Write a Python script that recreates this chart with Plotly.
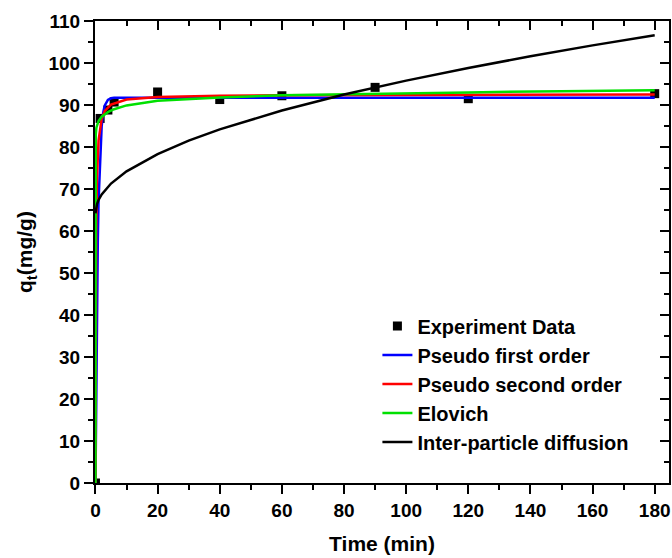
import plotly.graph_objects as go

# Adsorption kinetics: measured uptake and fitted model curves
time_exp = [0, 1.5, 4, 6, 20, 40, 60, 90, 120, 180]
qt_exp = [0, 86.8, 88.8, 90.7, 93.1, 91.3, 92.2, 94.2, 91.5, 92.7]

time_pfo = [0, 0.25, 0.5, 0.75, 1, 1.5, 2, 2.5, 3, 4, 5, 6, 10, 180]
qt_pfo = [0, 25.4, 43.5, 57.3, 67.3, 78.6, 85.0, 88.2, 89.9, 91.2, 91.6, 91.7, 91.7, 91.7]

time_pso = [0, 0.1, 0.25, 0.5, 1, 2, 3, 5, 10, 20, 40, 60, 100, 180]
qt_pso = [0, 39.6, 60.3, 73.0, 81.6, 86.7, 88.6, 90.1, 91.3, 91.9, 92.2, 92.3, 92.4, 92.5]

time_elo = [0, 0.02, 0.1, 0.3, 0.6, 1, 2, 3, 4, 6, 10, 20, 40, 60, 90, 120, 150, 180]
qt_elo = [0, 80.0, 83.0, 84.6, 85.5, 86.2, 87.2, 87.8, 88.3, 89.0, 89.9, 91.0, 91.8, 92.3, 92.7, 93.0, 93.3, 93.5]

time_ipd = [0, 0.25, 0.5, 1, 2, 5, 10, 20, 30, 40, 60, 80, 100, 120, 140, 160, 180]
qt_ipd = [64.2, 65.8, 66.4, 67.4, 68.7, 71.3, 74.2, 78.3, 81.5, 84.2, 88.7, 92.5, 95.8, 98.8, 101.6, 104.2, 106.6]

x_ticks = list(range(0, 181, 20))
y_ticks = list(range(0, 111, 10))

FONT = "Liberation Sans, Arial, sans-serif"
X_RANGE = [-0.15, 184.6]
Y_RANGE = [0, 110]

fig = go.Figure()

fig.add_trace(go.Scatter(
    x=time_exp, y=qt_exp, mode="markers", name="Experiment Data",
    marker=dict(symbol="square", size=9, color="black"),
))
fig.add_trace(go.Scatter(x=time_pfo, y=qt_pfo, mode="lines", name="Pseudo first order",
                         line=dict(color="#0000ff", width=2.5)))
fig.add_trace(go.Scatter(x=time_pso, y=qt_pso, mode="lines", name="Pseudo second order",
                         line=dict(color="#ff0000", width=2.5)))
fig.add_trace(go.Scatter(x=time_elo, y=qt_elo, mode="lines", name="Elovich",
                         line=dict(color="#00e000", width=2.5)))
fig.add_trace(go.Scatter(x=time_ipd, y=qt_ipd, mode="lines", name="Inter-particle diffusion",
                         line=dict(color="black", width=2.5)))

# mirrored frame (top and right) with inward ticks
fig.add_trace(go.Scatter(x=[None], y=[None], xaxis="x2", yaxis="y2",
                         showlegend=False, hoverinfo="skip"))

tickfont = dict(family=FONT, size=19, color="black", weight="bold")

fig.update_layout(
    width=672, height=558,
    margin=dict(l=95, r=1, t=21, b=75),
    paper_bgcolor="white", plot_bgcolor="white",
    showlegend=True,
    legend=dict(
        x=0.492, y=0.382, xanchor="left", yanchor="top",
        font=dict(family=FONT, size=20, color="black", weight="bold"),
        bgcolor="rgba(0,0,0,0)", tracegroupgap=0,
    ),
    xaxis=dict(
        range=X_RANGE, tickvals=x_ticks, ticks="outside", ticklen=9, tickwidth=2,
        tickcolor="black", showline=True, linecolor="black", linewidth=2,
        showgrid=False, zeroline=False, tickfont=tickfont, ticklabeloverflow="allow",
        minor=dict(dtick=10, tick0=0, ticks="outside", ticklen=5, tickwidth=2, tickcolor="black"),
        title=dict(text="Time (min)", font=dict(family=FONT, size=21, color="black", weight="bold"),
                   standoff=17),
    ),
    yaxis=dict(
        range=Y_RANGE, tickvals=y_ticks, ticks="outside", ticklen=9, tickwidth=2,
        tickcolor="black", showline=True, linecolor="black", linewidth=2,
        showgrid=False, zeroline=False, tickfont=tickfont, ticklabeloverflow="allow",
        minor=dict(dtick=5, tick0=0, ticks="outside", ticklen=5, tickwidth=2, tickcolor="black"),
        title=dict(text="q<sub>t</sub>(mg/g)", font=dict(family=FONT, size=21, color="black", weight="bold"),
                   standoff=10),
    ),
    xaxis2=dict(
        overlaying="x", side="top", anchor="y2", range=X_RANGE, tickvals=x_ticks,
        ticks="inside", ticklen=9, tickwidth=2, tickcolor="black", showticklabels=False,
        showline=True, linecolor="black", linewidth=2, showgrid=False, zeroline=False,
        minor=dict(dtick=10, tick0=0, ticks="inside", ticklen=5, tickwidth=2, tickcolor="black"),
    ),
    yaxis2=dict(
        overlaying="y", side="right", anchor="x2", range=Y_RANGE, tickvals=y_ticks,
        ticks="inside", ticklen=9, tickwidth=2, tickcolor="black", showticklabels=False,
        showline=True, linecolor="black", linewidth=2, showgrid=False, zeroline=False,
        minor=dict(dtick=5, tick0=0, ticks="inside", ticklen=5, tickwidth=2, tickcolor="black"),
    ),
)

fig.write_html("out.html")
